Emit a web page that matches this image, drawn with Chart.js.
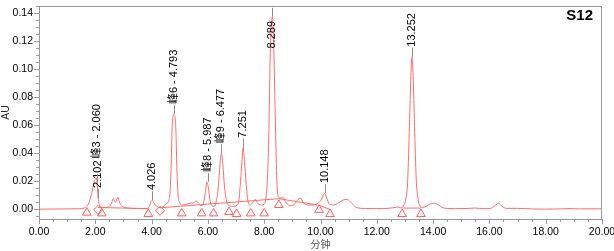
<!DOCTYPE html>
<html>
<head>
<meta charset="utf-8">
<script src="https://cdn.jsdelivr.net/npm/chart.js@4.4.1/dist/chart.umd.min.js"></script>
<style>
  html, body { margin: 0; padding: 0; background: #fff; }
</style>
</head>
<body>
<canvas id="chrom" width="614" height="251"></canvas>
<script>
// chromatogram S12
const traceMin = [0.00, 0.50, 1.00, 1.40, 1.60, 1.70, 1.80, 1.88, 1.95, 2.02, 2.06, 2.10, 2.14, 2.20, 2.35, 2.50, 2.58, 2.64, 2.70, 2.74,
  2.80, 2.86, 2.95, 3.10, 3.40, 3.80, 3.92, 3.98, 4.03, 4.08, 4.18, 4.30, 4.42, 4.52, 4.60, 4.65, 4.69, 4.73, 4.79, 4.86,
  4.90, 4.94, 5.00, 5.10, 5.25, 5.40, 5.47, 5.58, 5.68, 5.78, 5.85, 5.91, 5.96, 6.02, 6.08, 6.14, 6.22, 6.30, 6.37, 6.43,
  6.48, 6.53, 6.59, 6.66, 6.75, 6.90, 7.04, 7.10, 7.16, 7.21, 7.25, 7.30, 7.36, 7.42, 7.50, 7.60, 7.68, 7.78, 7.90, 8.00,
  8.06, 8.11, 8.16, 8.22, 8.29, 8.34, 8.40, 8.45, 8.50, 8.58, 8.66, 8.75, 8.90, 9.05, 9.20, 9.28, 9.38, 9.55, 9.75, 9.92,
  10.02, 10.10, 10.15, 10.22, 10.32, 10.45, 10.60, 10.80, 10.95, 11.10, 11.30, 11.60, 12.00, 12.40, 12.65, 12.75, 12.85, 12.95, 13.04, 13.10,
  13.16, 13.21, 13.25, 13.29, 13.34, 13.40, 13.46, 13.53, 13.62, 13.75, 13.90, 14.05, 14.20, 14.40, 14.80, 15.20, 15.50, 15.80, 16.05, 16.20,
  16.32, 16.45, 16.60, 17.00, 17.50, 18.00, 18.50, 18.90, 19.20, 20.00];
const traceAU = [0.0000, 0.0001, 0.0002, 0.0003, 0.0008, 0.0020, 0.0060, 0.0120, 0.0190, 0.0225, 0.0190, 0.0085, 0.0035, 0.0015, 0.0012, 0.0020, 0.0045, 0.0075, 0.0050, 0.0055,
  0.0085, 0.0050, 0.0020, 0.0010, 0.0005, 0.0004, 0.0020, 0.0055, 0.0065, 0.0045, 0.0020, 0.0010, 0.0020, 0.0040, 0.0055, 0.0110, 0.0280, 0.0580, 0.0680, 0.0580,
  0.0280, 0.0110, 0.0045, 0.0030, 0.0035, 0.0045, 0.0042, 0.0060, 0.0040, 0.0025, 0.0050, 0.0120, 0.0195, 0.0150, 0.0060, 0.0025, 0.0020, 0.0060, 0.0160, 0.0320,
  0.0400, 0.0320, 0.0160, 0.0060, 0.0025, 0.0020, 0.0030, 0.0060, 0.0200, 0.0340, 0.0440, 0.0340, 0.0180, 0.0060, 0.0030, 0.0050, 0.0070, 0.0040, 0.0030, 0.0035,
  0.0080, 0.0200, 0.0500, 0.1150, 0.1375, 0.1150, 0.0600, 0.0200, 0.0090, 0.0080, 0.0085, 0.0055, 0.0025, 0.0030, 0.0070, 0.0080, 0.0050, 0.0030, 0.0030, 0.0045,
  0.0065, 0.0100, 0.0115, 0.0080, 0.0035, 0.0030, 0.0040, 0.0065, 0.0070, 0.0045, 0.0010, 0.0005, 0.0004, 0.0006, 0.0012, 0.0015, 0.0010, 0.0025, 0.0080, 0.0220,
  0.0600, 0.0950, 0.1090, 0.0950, 0.0600, 0.0220, 0.0080, 0.0025, 0.0012, 0.0020, 0.0038, 0.0042, 0.0030, 0.0007, 0.0004, 0.0005, 0.0008, 0.0004, 0.0006, 0.0025,
  0.0042, 0.0020, 0.0006, 0.0006, 0.0002, 0.0000, 0.0002, 0.0004, 0.0002, 0.0003];

// integration baselines (null = break)
const baseMin = [2.10, 3.90, null, 4.30, 8.52, 9.95, 10.34, null, 12.90, 13.57];
const baseAU = [0.0012, 0.0004, null, 0.0010, 0.0075, 0.0028, -0.0002, null, 0.0008, 0.0008];

// peak start/end markers
const triMin = [1.70, 2.23, 3.88, 5.07, 5.78, 6.20, 6.75, 7.02, 7.52, 8.00, 8.52, 9.95, 10.34, 12.90, 13.57];
const triAU = [-0.0025, -0.0030, -0.0035, -0.0030, -0.0030, -0.0030, -0.0020, -0.0035, -0.0030, -0.0030, 0.0030, -0.0005, -0.0035, -0.0035, -0.0035];
const diaMin = [2.10, 4.30];
const diaAU = [-0.0005, -0.0012];

// labelled peaks
const peakRT = [2.060, 2.102, 4.026, 4.793, 5.987, 6.477, 7.251, 8.289, 10.148, 13.252];
const peakAU = [0.0190, 0.0080, 0.0065, 0.0680, 0.0195, 0.0400, 0.0440, 0.1375, 0.0115, 0.1090];
const peakText = ['峰3 - 2.060', '2.102', '4.026', '峰6 - 4.793', '峰8 - 5.987', '峰9 - 6.477', '7.251', '8.289', '10.148', '13.252'];

const FONT = '"Liberation Sans", Arial, "Noto Sans CJK SC", sans-serif';
const RED = '#ff6b6b';
const AXIS = '#9a9a9a';

Chart.defaults.font.family = FONT;
Chart.defaults.color = '#000';

function isMultiple(v, step) {
  const r = v / step;
  return Math.abs(r - Math.round(r)) < 1e-6;
}

const toXY = (xs, ys) => xs.map((v, i) => ({ x: v, y: ys[i] }));

// frame + major/minor ticks
const frameTicks = {
  id: 'frameTicks',
  afterDraw(chart) {
    const { ctx, chartArea: a, scales: { x, y } } = chart;
    ctx.save();
    ctx.strokeStyle = AXIS;
    ctx.lineWidth = 1;
    ctx.strokeRect(a.left + 0.5, a.top + 0.5, a.right - a.left - 1, a.bottom - a.top);
    ctx.beginPath();
    x.ticks.forEach(t => {
      const px = Math.round(x.getPixelForValue(t.value)) + 0.5;
      const len = isMultiple(t.value, 2) ? 5 : 3;
      ctx.moveTo(px, a.bottom);
      ctx.lineTo(px, a.bottom + len);
    });
    y.ticks.forEach(t => {
      const py = Math.round(y.getPixelForValue(t.value)) + 0.5;
      const len = isMultiple(t.value, 0.02) ? 5 : 3;
      ctx.moveTo(a.left, py);
      ctx.lineTo(a.left - len, py);
    });
    ctx.stroke();
    ctx.font = 'bold 15px ' + FONT;
    ctx.fillStyle = '#000';
    ctx.textAlign = 'right';
    ctx.textBaseline = 'alphabetic';
    ctx.fillText('S12', 593, 20);
    ctx.restore();
  }
};

// vertical peak labels with small grey drop line
const peakLabels = {
  id: 'peakLabels',
  afterDatasetsDraw(chart) {
    const { ctx, chartArea: area, scales: { x, y } } = chart;
    ctx.save();
    ctx.font = '11px ' + FONT;
    const items = peakRT.map((rt, i) => ({
      px: x.getPixelForValue(rt),
      py: y.getPixelForValue(peakAU[i]),
      text: peakText[i]
    }));
    items.sort((p, q) => q.py - p.py);
    const placed = [];
    for (const it of items) {
      const w = ctx.measureText(it.text).width;
      let bottom = it.py - 10;
      if (bottom - w < area.top) bottom = area.top + 15 + w;
      for (const p of placed) {
        if (Math.abs(p.px - it.px) < 11 && bottom > p.top && bottom - w < p.bottom) bottom = p.top - 2;
      }
      placed.push({ px: it.px, top: bottom - w, bottom });

      const lx = Math.round(it.px) + 0.5;
      ctx.strokeStyle = '#8c8c8c';
      ctx.lineWidth = 1;
      ctx.beginPath();
      ctx.moveTo(lx, it.py);
      ctx.lineTo(lx, it.py - 9);
      ctx.stroke();

      ctx.save();
      ctx.translate(it.px, bottom);
      ctx.rotate(-Math.PI / 2);
      ctx.fillStyle = '#000';
      ctx.textAlign = 'left';
      ctx.textBaseline = 'middle';
      ctx.fillText(it.text, 0, 0);
      ctx.restore();
    }
    ctx.restore();
  }
};

new Chart(document.getElementById('chrom'), {
  type: 'line',
  data: {
    datasets: [
      { data: toXY(triMin, triAU), type: 'scatter', pointStyle: 'triangle', pointRadius: 5,
        borderColor: '#ff5c5c', backgroundColor: 'rgba(0,0,0,0)', borderWidth: 1 },
      { data: toXY(diaMin, diaAU), type: 'scatter', pointStyle: 'rectRot', pointRadius: 4.5,
        borderColor: '#ff5c5c', backgroundColor: 'rgba(0,0,0,0)', borderWidth: 1 },
      { data: toXY(baseMin, baseAU), borderColor: RED, borderWidth: 1, pointRadius: 0, spanGaps: false, tension: 0 },
      { data: toXY(traceMin, traceAU), borderColor: RED, borderWidth: 1, pointRadius: 0, cubicInterpolationMode: 'monotone' }
    ]
  },
  options: {
    responsive: false,
    animation: false,
    layout: { padding: { left: 0, right: 12, top: 2, bottom: 0 } },
    plugins: { legend: { display: false }, tooltip: { enabled: false } },
    scales: {
      x: {
        type: 'linear', min: 0, max: 20,
        afterFit: s => { s.height = 32; s.paddingLeft = 0; s.paddingRight = 0; },
        ticks: { stepSize: 0.5, autoSkip: false, maxRotation: 0, includeBounds: false, padding: 2, color: '#000',
          font: { size: 10.5 }, callback: v => isMultiple(v, 2) ? v.toFixed(2) : '' },
        grid: { drawOnChartArea: false, drawTicks: true, tickLength: 5, color: 'rgba(0,0,0,0)' },
        border: { display: false },
        title: { display: true, text: '分钟', color: '#555', font: { size: 10, lineHeight: 1 }, padding: { top: 0, bottom: 1 } }
      },
      y: {
        min: -0.00702, max: 0.14526,
        afterFit: s => { s.width = 39; s.paddingTop = 0; s.paddingBottom = 0; },
        ticks: { stepSize: 0.005, autoSkip: false, includeBounds: false, padding: 1, color: '#000',
          font: { size: 10.5 }, callback: v => isMultiple(v, 0.02) ? v.toFixed(2) : '' },
        grid: { drawOnChartArea: false, drawTicks: true, tickLength: 5, color: 'rgba(0,0,0,0)' },
        border: { display: false },
        title: { display: true, text: 'AU', color: '#222', font: { size: 10.5, lineHeight: 1 }, padding: { top: 1, bottom: 0 } }
      }
    }
  },
  plugins: [frameTicks, peakLabels]
});
</script>
</body>
</html>
